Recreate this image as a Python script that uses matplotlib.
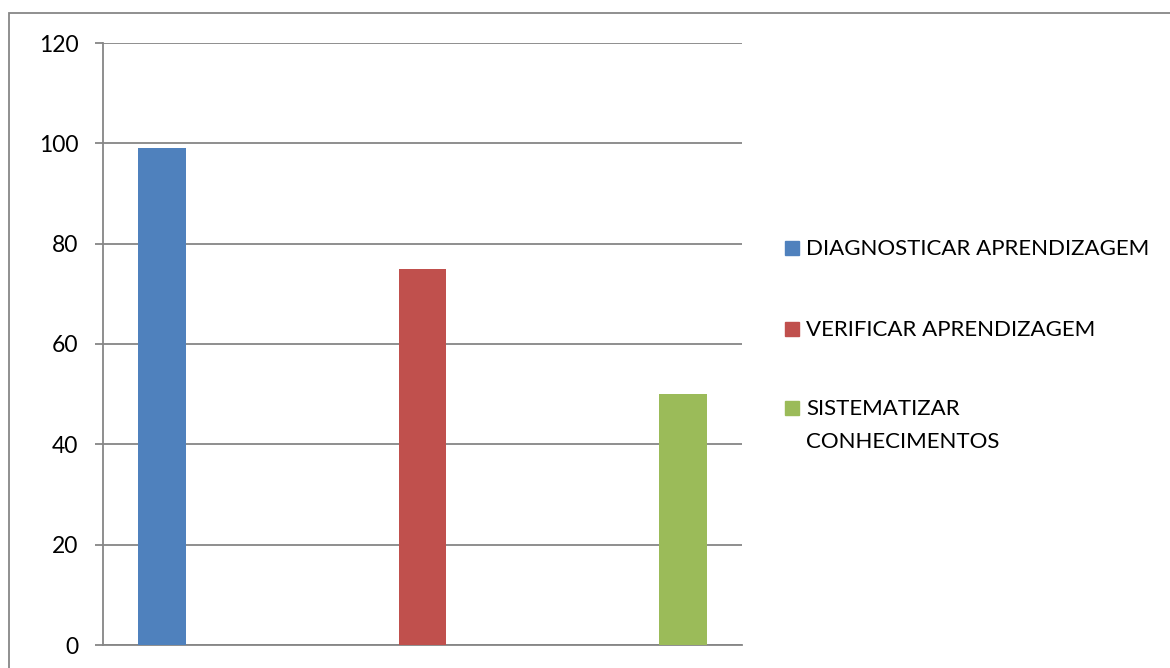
import matplotlib.pyplot as plt
from matplotlib.patches import Rectangle

# dados do grafico
categorias = ['DIAGNOSTICAR APRENDIZAGEM', 'VERIFICAR APRENDIZAGEM',
              'SISTEMATIZAR\nCONHECIMENTOS']
valores = [99, 75, 50]
cores = ['#4F81BD', '#C0504D', '#9BBB59']
ticks_y = [0, 20, 40, 60, 80, 100, 120]

plt.rcParams['font.family'] = ['Lato', 'DejaVu Sans']

W, H = 1170, 668
fig = plt.figure(figsize=(W / 100, H / 100), dpi=100)

# moldura da area do grafico (sai pela direita e por baixo)
fig.patches.append(Rectangle((9 / W, -0.5), 1.2, (H - 13) / H + 0.5,
                             transform=fig.transFigure, fill=False,
                             edgecolor='#878787', linewidth=1.3))

ax = fig.add_axes([103 / W, (H - 645) / H, (742 - 103) / W, (645 - 43) / H])
x = range(len(valores))
ax.bar(x, valores, width=0.184, color=cores, zorder=3)

ax.set_xlim(-0.2265, len(valores) - 1 + 0.2265)
ax.set_ylim(0, 120)
ax.set_yticks(ticks_y)
ax.set_xticks([])
ax.yaxis.grid(True, color='#868686', linewidth=1.3, zorder=0)
for lado in ['top', 'right']:
    ax.spines[lado].set_visible(False)
for lado in ['left', 'bottom']:
    ax.spines[lado].set_color('#868686')
    ax.spines[lado].set_linewidth(1.3)
ax.tick_params(axis='y', length=5.8, width=1.3, color='#868686',
               labelsize=16.5, pad=12)

# legenda desenhada a mao (marcador alinhado com a primeira linha)
base_y = [255, 335.5, 415]
for cat, cor, yb in zip(categorias, cores, base_y):
    fig.patches.append(Rectangle((785 / W, (H - yb) / H), 14 / W, 14 / H,
                                 transform=fig.transFigure, color=cor))
    for i, linha in enumerate(cat.split('\n')):
        fig.text(806 / W, (H - yb - i * 33) / H, linha, fontsize=16,
                 va='baseline', ha='left')

fig.savefig('out.png', dpi=100)
